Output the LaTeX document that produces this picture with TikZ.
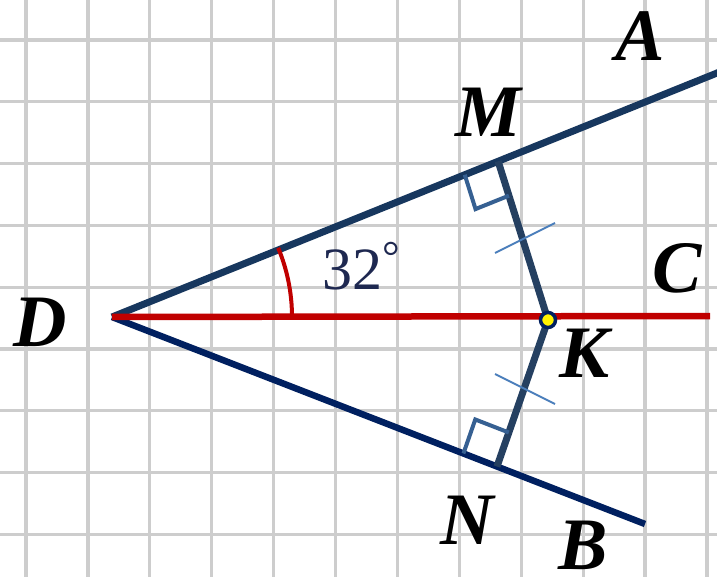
\documentclass[tikz,border=0pt]{standalone}
\usepackage{fontspec}
\setmainfont{Liberation Serif}
\usetikzlibrary{calc}
\definecolor{lineA}{RGB}{23,55,94}
\definecolor{lineB}{RGB}{0,32,96}
\definecolor{lineC}{RGB}{192,0,0}
\definecolor{perp}{RGB}{37,64,97}
\definecolor{rmark}{RGB}{54,96,146}
\definecolor{tickc}{RGB}{74,126,187}
\definecolor{numc}{RGB}{30,40,80}
\definecolor{gridc}{RGB}{205,205,205}
\begin{document}
\begin{tikzpicture}[x=1pt,y=-1pt,
  gridline/.style={draw=gridc,line width=3.2pt},
  lbl/.style={font=\fontsize{74}{74}\selectfont\bfseries\itshape,inner sep=0pt,text=black},
  rightmark/.style={draw=rmark,line width=4pt},
  tickmark/.style={draw=tickc,line width=1.8pt}]
\useasboundingbox (0,0) rectangle (717,577);
\fill[white] (0,0) rectangle (717,577);
\foreach \i in {0,...,11} \draw[gridline] ({26+61.9*\i},0) -- ({26+61.9*\i},577);
\foreach \j in {0,...,8} \draw[gridline] (0,{40+61.8*\j}) -- (717,{40+61.8*\j});

\coordinate (D) at (112,317);
\coordinate (A) at (722,71);
\coordinate (B) at (645,524);
\coordinate (C) at (710,316);
\coordinate (M) at ($(D)!0.633!(A)$);
\coordinate (N) at ($(D)!0.7223!(B)$);
\coordinate (K) at (548,320);

% rays
\draw[lineA,line width=7pt] (D) -- (A);
\draw[lineB,line width=6.5pt] (D) -- (B);
\draw[lineC,line width=6.5pt] (D) -- (C);
% angle arc
\draw[lineC,line width=4pt] ($(D)+(180,0)$) arc[start angle=0,end angle=-22.6,radius=180];

% perpendiculars
\draw[perp,line width=7pt] (M) -- (K);
\draw[perp,line width=7pt] (K) -- (N);

% right angle marks
\coordinate (m1) at ($(M)!36pt!(D)$);
\coordinate (m2) at ($(M)!36pt!(K)$);
\draw[rightmark] (m1) -- ($(m1)+(m2)-(M)$) -- (m2);
\coordinate (n1) at ($(N)!36pt!(D)$);
\coordinate (n2) at ($(N)!36pt!(K)$);
\draw[rightmark] (n1) -- ($(n1)+(n2)-(N)$) -- (n2);

% equal ticks
\coordinate (t1a) at (495,253);
\coordinate (t1b) at (555,223);
\coordinate (t2a) at (495,374);
\coordinate (t2b) at (555,404);
\draw[tickmark] (t1a) -- (t1b);
\draw[tickmark] (t2a) -- (t2b);

% point K
\node[circle,draw=lineB,fill=yellow,line width=3.5pt,minimum size=15pt,inner sep=0pt] (Kp) at (K) {};

% labels
\node[lbl] (lA) at (640,36) {A};
\node[lbl] (lM) at (488,112) {M};
\node[lbl] (lC) at (677,268) {C};
\node[lbl] (lD) at (40,322) {D};
\node[lbl] (lK) at (585,353) {К};
\node[lbl] (lN) at (467,520) {N};
\node[lbl] (lB) at (583,545) {B};
\node[anchor=base west,inner sep=0pt,text=numc,font=\fontsize{60}{60}\selectfont] (ang) at (322,290) {32\raisebox{0.3em}{\fontsize{44}{44}\selectfont °}};
\end{tikzpicture}
\end{document}
